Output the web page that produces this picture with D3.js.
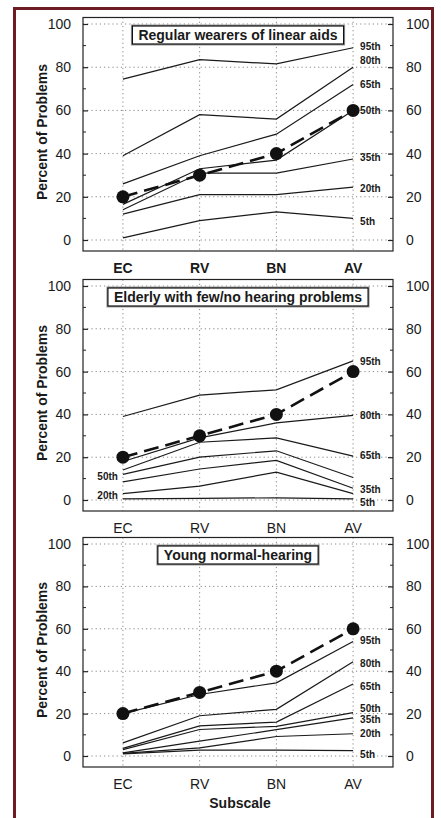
<!DOCTYPE html>
<html>
<head>
<meta charset="utf-8">
<script src="https://cdnjs.cloudflare.com/ajax/libs/d3/7.8.5/d3.min.js"></script>
<style>
body { margin: 0; background: #fff; }
svg { display: block; font-family: "Liberation Sans", Arial, sans-serif; }
</style>
</head>
<body>
<script>
// data
const categories = ["EC", "RV", "BN", "AV"];
const percentiles = ["5th", "20th", "35th", "50th", "65th", "80th", "95th"];
const medianRef = [20, 30, 40, 60];
const yTicks = [0, 20, 40, 60, 80, 100];
const titles = ["Regular wearers of linear aids", "Elderly with few/no hearing problems", "Young normal-hearing"];

// panel 1: regular wearers of linear aids (one row per percentile)
const aidedValues = [
    [1, 9, 13, 10],
    [12, 21, 21, 24.5],
    [14, 31, 31, 37.5],
    [16.5, 33, 37, 60],
    [26, 39, 49, 72],
    [39, 58, 56, 80],
    [74.5, 83.5, 81.5, 89]
];
const aidedLabelAt = [8.5, 24, 38, 60, 72, 83, 89.5];

// panel 2: elderly with few/no hearing problems
const elderlyValues = [
    [0.5, 0.8, 1, 0.5],
    [3, 6.5, 13, 3],
    [8.5, 14.5, 18.5, 5.5],
    [12, 20, 23, 10.5],
    [14, 27, 29, 20.5],
    [18, 29, 36, 39.5],
    [39, 49, 51.5, 65]
];
const elderlyLabelAt = [-1, 2.3, 4.7, 11, 20.7, 39.4, 64.6];
const elderlyLabelLeft = ["20th", "50th"];

// panel 3: young normal-hearing
const youngValues = [
    [1, 2.8, 2.8, 2.5],
    [1.2, 3.8, 9.2, 10.5],
    [1.5, 7, 12.4, 18],
    [3, 12.5, 14, 20.5],
    [3.6, 14.2, 16, 34],
    [6.2, 19, 22, 44.5],
    [20, 29, 34.5, 54]
];
const youngLabelAt = [0.5, 10.4, 17.2, 22.4, 32.7, 43.7, 54.7];

// layout
const width = 441, height = 818;
const plot = {left: 83, right: 393};
const panelY = [{zero: 240, full: 24}, {zero: 500, full: 286}, {zero: 756, full: 544}];
const panels = [
    {values: aidedValues, labelAt: aidedLabelAt, left: [], boldCats: true},
    {values: elderlyValues, labelAt: elderlyLabelAt, left: elderlyLabelLeft, boldCats: false},
    {values: youngValues, labelAt: youngLabelAt, left: [], boldCats: false}
];

const svg = d3.select("body").append("svg")
    .attr("width", width)
    .attr("height", height);

// red frame
svg.append("rect")
    .attr("x", 14.5).attr("y", 8.5)
    .attr("width", 418).attr("height", 840)
    .attr("fill", "none")
    .attr("stroke", "#6d1c26")
    .attr("stroke-width", 3);

const x = d3.scalePoint()
    .domain(categories)
    .range([plot.left, plot.right])
    .padding(0.52);

const line = d3.line();

panels.forEach(function (p, i) {
    const y = d3.scaleLinear().domain([0, 100]).range([panelY[i].zero, panelY[i].full]);
    const top = y(100) - 6.5, bottom = y(0) + 11;
    const g = svg.append("g");

    // grid
    g.selectAll(".hgrid").data(yTicks).enter().append("line")
        .attr("x1", plot.left).attr("x2", plot.right)
        .attr("y1", function (d) { return y(d); })
        .attr("y2", function (d) { return y(d); })
        .attr("stroke", "#888").attr("stroke-width", 1)
        .attr("stroke-dasharray", "1.2,3");
    g.selectAll(".vgrid").data(categories).enter().append("line")
        .attr("x1", function (d) { return x(d); })
        .attr("x2", function (d) { return x(d); })
        .attr("y1", top).attr("y2", bottom)
        .attr("stroke", "#888").attr("stroke-width", 1)
        .attr("stroke-dasharray", "1.2,3");

    // frame box
    g.append("rect")
        .attr("x", plot.left).attr("y", top)
        .attr("width", plot.right - plot.left).attr("height", bottom - top)
        .attr("fill", "none").attr("stroke", "#222").attr("stroke-width", 1.2);

    // axes, ticks inward
    const leftAxis = d3.axisLeft(y).tickValues(yTicks).tickSize(-5).tickPadding(12);
    const rightAxis = d3.axisRight(y).tickValues(yTicks).tickSize(-5).tickPadding(13);
    [[leftAxis, plot.left], [rightAxis, plot.right]].forEach(function (a) {
        const ax = g.append("g")
            .attr("transform", "translate(" + a[1] + ",0)")
            .call(a[0]);
        ax.select(".domain").remove();
        ax.selectAll("line").attr("stroke", "#222").attr("stroke-width", 1.2);
        ax.selectAll("text")
            .attr("font-size", 14).attr("font-family", "Liberation Sans, Arial, sans-serif")
            .attr("fill", "#1a1a1a");
    });
    // minor ticks
    const minor = d3.range(10, 100, 20);
    g.selectAll(".minorL").data(minor).enter().append("line")
        .attr("x1", plot.left).attr("x2", plot.left + 3)
        .attr("y1", function (d) { return y(d); })
        .attr("y2", function (d) { return y(d); })
        .attr("stroke", "#222");
    g.selectAll(".minorR").data(minor).enter().append("line")
        .attr("x1", plot.right).attr("x2", plot.right - 3)
        .attr("y1", function (d) { return y(d); })
        .attr("y2", function (d) { return y(d); })
        .attr("stroke", "#222");

    // category labels
    g.selectAll(".cat").data(categories).enter().append("text")
        .attr("x", function (d) { return x(d); })
        .attr("y", y(0) + 33)
        .attr("text-anchor", "middle")
        .attr("font-size", 14)
        .attr("font-weight", p.boldCats ? "bold" : "normal")
        .attr("fill", "#1a1a1a")
        .text(function (d) { return d; });

    // y label
    g.append("text")
        .attr("transform", "translate(47," + (y(50)) + ") rotate(-90)")
        .attr("text-anchor", "middle")
        .attr("font-size", 14).attr("font-weight", "bold")
        .attr("fill", "#1a1a1a")
        .text("Percent of Problems");

    // percentile lines
    g.selectAll(".pct").data(p.values).enter().append("path")
        .attr("d", function (row) {
            return line(row.map(function (v, j) { return [x(categories[j]), y(v)]; }));
        })
        .attr("fill", "none").attr("stroke", "#1a1a1a").attr("stroke-width", 1.2);

    // percentile labels
    percentiles.forEach(function (name, k) {
        const onLeft = p.left.indexOf(name) >= 0;
        const xl = onLeft ? x("EC") - 5 : x("AV") + 7;
        g.append("text")
            .attr("x", xl)
            .attr("y", y(p.labelAt[k]))
            .attr("dy", "0.35em")
            .attr("text-anchor", onLeft ? "end" : "start")
            .attr("font-size", 10).attr("font-weight", "bold")
            .attr("fill", "#1a1a1a")
            .text(name);
    });

    // median reference
    g.append("path")
        .attr("d", line(medianRef.map(function (v, j) { return [x(categories[j]), y(v)]; })))
        .attr("fill", "none").attr("stroke", "#111")
        .attr("stroke-width", 2.6).attr("stroke-dasharray", "15,7");
    g.selectAll(".dot").data(medianRef).enter().append("circle")
        .attr("cx", function (d, j) { return x(categories[j]); })
        .attr("cy", function (d) { return y(d); })
        .attr("r", 6.5).attr("fill", "#111");

    // title box
    const tb = g.append("g");
    const tt = tb.append("text")
        .attr("x", (plot.left + plot.right) / 2)
        .attr("y", y(100) + 16)
        .attr("text-anchor", "middle")
        .attr("font-size", 14).attr("font-weight", "bold")
        .attr("fill", "#1a1a1a")
        .text(titles[i]);
    const tw = tt.node().getComputedTextLength();
    tb.insert("rect", "text")
        .attr("x", (plot.left + plot.right) / 2 - tw / 2 - 6)
        .attr("y", y(100) + 2)
        .attr("width", tw + 12).attr("height", 18)
        .attr("fill", "#fff").attr("stroke", "#999").attr("stroke-width", 3);
    tb.insert("rect", "text")
        .attr("x", (plot.left + plot.right) / 2 - tw / 2 - 6)
        .attr("y", y(100) + 2)
        .attr("width", tw + 12).attr("height", 18)
        .attr("fill", "#fff").attr("stroke", "#111").attr("stroke-width", 1.2);
});

// x title
svg.append("text")
    .attr("x", 240).attr("y", 808)
    .attr("text-anchor", "middle")
    .attr("font-size", 14).attr("font-weight", "bold")
    .attr("fill", "#1a1a1a")
    .text("Subscale");
</script>
</body>
</html>
